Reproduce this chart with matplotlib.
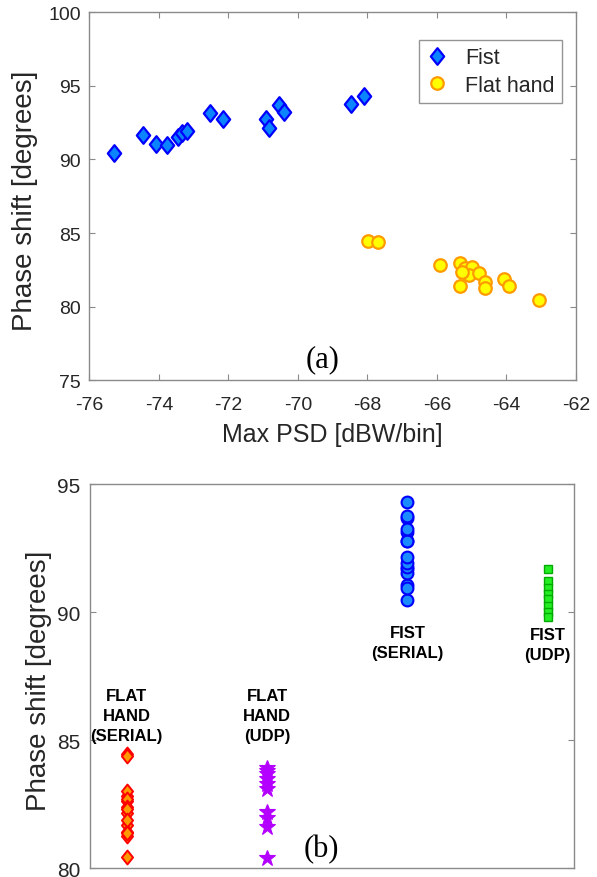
import numpy as np
import matplotlib
matplotlib.use("Agg")
import matplotlib.pyplot as plt
from matplotlib.path import Path

# (a) phase shift vs max PSD
fist_psd = [-75.30, -74.45, -74.07, -73.76, -73.46, -73.33, -73.20, -72.53,
            -72.15, -70.92, -70.84, -70.53, -70.40, -68.46, -68.11]
fist_phase = [90.46, 91.68, 91.07, 90.95, 91.52, 91.77, 91.93, 93.14,
              92.77, 92.77, 92.16, 93.68, 93.25, 93.77, 94.31]
flat_psd = [-67.97, -67.69, -65.92, -65.33, -65.19, -65.00, -65.09, -65.29,
            -64.80, -64.61, -64.61, -65.35, -64.08, -63.93, -63.07]
flat_phase = [84.48, 84.39, 82.84, 83.00, 82.62, 82.69, 82.16, 82.39,
              82.32, 81.70, 81.25, 81.43, 81.87, 81.39, 80.46]

# (b) phase shift per gesture / link
categories = ["FLAT\nHAND\n(SERIAL)", "FLAT\nHAND\n(UDP)", "FIST\n(SERIAL)", "FIST\n(UDP)"]
flat_serial_phase = flat_phase
flat_udp_phase = [83.9, 83.8, 83.7, 83.5, 83.3, 83.1, 82.2, 81.95, 81.6, 80.4]
fist_serial_phase = fist_phase
fist_udp_phase = [91.7, 91.2, 90.95, 90.7, 90.5, 90.25, 90.0, 89.8]

plt.rcParams["font.family"] = ["Liberation Sans", "DejaVu Sans"]
plt.rcParams["axes.unicode_minus"] = False
text_col = "#262626"
spine_col = "#8a8a8a"

# MATLAB-ish diamond (a bit taller than wide)
diamond = Path([(0, 1), (0.8, 0), (0, -1), (-0.8, 0), (0, 1)],
               [Path.MOVETO, Path.LINETO, Path.LINETO, Path.LINETO, Path.CLOSEPOLY])

fig = plt.figure(figsize=(5.97, 8.78), dpi=100)
ax1 = fig.add_axes([0.1496, 0.5657, 0.8152, 0.4192])
ax2 = fig.add_axes([0.1508, 0.0099, 0.8107, 0.4377])


def style_axes(ax, tick_size):
    for s in ax.spines.values():
        s.set_color(spine_col)
        s.set_linewidth(1.0)
    ax.tick_params(direction="in", length=4, width=0.8, color=spine_col,
                   labelcolor=text_col, labelsize=tick_size)


# ---- top panel
ax1.plot(fist_psd, fist_phase, linestyle="none", marker=diamond, markersize=12,
         markerfacecolor="#0a84ff", markeredgecolor="#0000ff", markeredgewidth=1.6,
         label="Fist")
ax1.plot(flat_psd, flat_phase, linestyle="none", marker="o", markersize=9,
         markerfacecolor="#ffff00", markeredgecolor="#ff9900", markeredgewidth=1.6,
         label="Flat hand")
ax1.set_xlim(-76, -62)
ax1.set_ylim(75, 100)
ax1.set_xticks(np.arange(-76, -61, 2))
ax1.set_yticks(np.arange(75, 101, 5))
style_axes(ax1, 14)
ax1.tick_params(top=True, right=True)
ax1.tick_params(axis="x", pad=11)
ax1.tick_params(axis="y", pad=6)
ax1.set_xlabel("Max PSD [dBW/bin]", fontsize=18, color=text_col)
ax1.xaxis.set_label_coords(0.5, -0.112)
ax1.set_ylabel("Phase shift [degrees]", fontsize=20, color=text_col)
ax1.yaxis.set_label_coords(-0.105, 0.49)
ax1.text(-69.3, 76.5, "(a)", fontsize=22, family=["Liberation Serif", "DejaVu Serif"],
         ha="center", va="center", color="black")
leg = ax1.legend(loc="upper right", bbox_to_anchor=(0.971, 0.925), fontsize=15.5,
                 frameon=True, fancybox=False, handlelength=1.0, handletextpad=0.8,
                 borderpad=0.35, labelspacing=0.3, borderaxespad=0)
leg.get_frame().set_edgecolor("#7a7a7a")
leg.get_frame().set_linewidth(1.0)
for t in leg.get_texts():
    t.set_color(text_col)

# ---- bottom panel
ax2.plot(np.full(len(flat_serial_phase), 1), flat_serial_phase, linestyle="none",
         marker=diamond, markersize=10, markerfacecolor="#ff9900",
         markeredgecolor="#ff0000", markeredgewidth=1.4)
ax2.plot(np.full(len(flat_udp_phase), 2), flat_udp_phase, linestyle="none",
         marker="*", markersize=12, markerfacecolor="#b300ff",
         markeredgecolor="#b300ff", markeredgewidth=0.8)
ax2.plot(np.full(len(fist_serial_phase), 3), fist_serial_phase, linestyle="none",
         marker="o", markersize=8.5, markerfacecolor="#1a8cff",
         markeredgecolor="#0000ff", markeredgewidth=1.5)
ax2.plot(np.full(len(fist_udp_phase), 4), fist_udp_phase, linestyle="none",
         marker="s", markersize=5.5, markerfacecolor="#22ee22",
         markeredgecolor="#00aa00", markeredgewidth=1.0)

label_y = [85.96, 85.96, 88.8, 88.75]
for i, (name, ly) in enumerate(zip(categories, label_y)):
    ax2.text(i + 1, ly, name, ha="center", va="center", fontsize=12,
             fontweight="bold", color="black", linespacing=1.4)

ax2.set_xlim(0.738, 4.187)
ax2.set_ylim(80, 95)
ax2.set_xticks([])
ax2.set_yticks(np.arange(80, 96, 5))
style_axes(ax2, 15)
ax2.tick_params(axis="y", left=True, right=True, pad=7)
ax2.set_ylabel("Phase shift [degrees]", fontsize=20, color=text_col)
ax2.yaxis.set_label_coords(-0.0785, 0.49)
ax2.text(2.39, 80.78, "(b)", fontsize=22, family=["Liberation Serif", "DejaVu Serif"],
         ha="center", va="center", color="black")

fig.savefig("out.png", dpi=100)
plt.close(fig)
